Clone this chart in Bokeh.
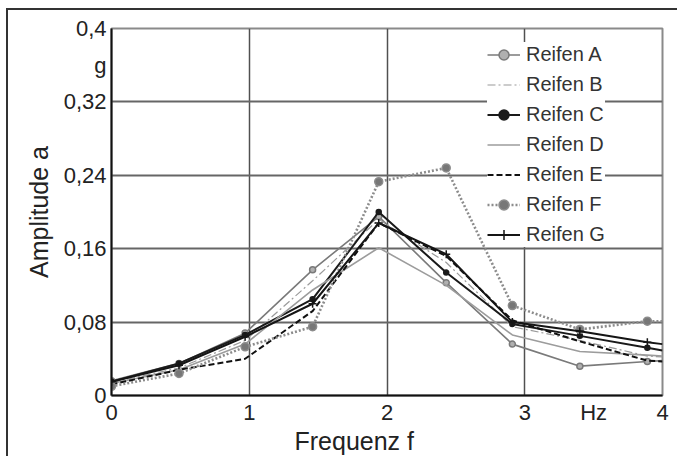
from bokeh.plotting import figure
from bokeh.models import Range1d, FixedTicker, Legend, Title
from bokeh.embed import file_html
from bokeh.resources import INLINE

# ---- data ----
freq = [0.0, 0.49, 0.97, 1.46, 1.94, 2.43, 2.91, 3.40, 3.89, 4.0]
reifen_a = [0.016, 0.035, 0.068, 0.137, 0.195, 0.123, 0.056, 0.032, 0.037, 0.038]
reifen_b = [0.014, 0.030, 0.060, 0.125, 0.192, 0.145, 0.075, 0.060, 0.043, 0.042]
reifen_c = [0.015, 0.035, 0.066, 0.105, 0.200, 0.134, 0.078, 0.065, 0.052, 0.049]
reifen_d = [0.013, 0.028, 0.056, 0.115, 0.161, 0.120, 0.066, 0.048, 0.044, 0.043]
reifen_e = [0.012, 0.028, 0.040, 0.092, 0.188, 0.152, 0.082, 0.059, 0.038, 0.037]
reifen_f = [0.010, 0.024, 0.053, 0.075, 0.233, 0.248, 0.098, 0.072, 0.081, 0.081]
reifen_g = [0.015, 0.033, 0.064, 0.100, 0.188, 0.154, 0.080, 0.070, 0.058, 0.056]
n_markers = 9  # markers on measured points (last value is the line end at the frame edge)

series_names = ["Reifen A", "Reifen B", "Reifen C", "Reifen D", "Reifen E", "Reifen F", "Reifen G"]
x_ticks = [0, 1, 2, 3, 3.5, 4]
x_tick_labels = ["0", "1", "2", "3", "Hz", "4"]
y_ticks = [0, 0.08, 0.16, 0.24, 0.32, 0.36, 0.4]
y_tick_labels = ["0", "0,08", "0,16", "0,24", "0,32", "g", "0,4"]
x_label = "Frequenz f"
y_label = "Amplitude a"

FONT = "Liberation Sans"

p = figure(width=671, height=448, output_backend="svg", toolbar_location=None,
           x_range=Range1d(0, 4), y_range=Range1d(0, 0.4),
           min_border_left=103, min_border_right=17, min_border_top=18, min_border_bottom=63)
p.styles = {"border-top": "2px solid #333", "border-left": "2px solid #333",
            "margin-left": "6px", "margin-top": "8px"}
p.background_fill_color = "white"
p.border_fill_color = "white"
p.outline_line_color = "#8a8a8a"
p.outline_line_width = 2

# axes
p.xaxis.ticker = FixedTicker(ticks=x_ticks)
p.xaxis.major_label_overrides = {t: l for t, l in zip(x_ticks, x_tick_labels)}
p.yaxis.ticker = FixedTicker(ticks=y_ticks)
p.yaxis.major_label_overrides = {t: l for t, l in zip(y_ticks, y_tick_labels)}
for ax in (p.xaxis[0], p.yaxis[0]):
    ax.axis_line_color = "#111"
    ax.axis_line_width = 2
    ax.major_tick_in = 0
    ax.major_tick_out = 0
    ax.minor_tick_in = 0
    ax.minor_tick_out = 0
    ax.major_label_text_font = FONT
    ax.major_label_text_font_size = "22px"
    ax.major_label_text_color = "#222"
p.xaxis.major_label_standoff = 4
p.yaxis.major_label_standoff = 5

p.yaxis.axis_label = y_label
p.yaxis.axis_label_text_font = FONT
p.yaxis.axis_label_text_font_size = "25px"
p.yaxis.axis_label_text_font_style = "normal"
p.yaxis.axis_label_text_color = "#222"
p.yaxis.axis_label_standoff = 8

xt = Title(text=x_label, align="left", offset=183, standoff=-5,
           text_font=FONT, text_font_size="25px", text_font_style="normal", text_color="#222")
p.add_layout(xt, "below")

# grid
p.xgrid.ticker = FixedTicker(ticks=[1, 2, 3])
p.ygrid.ticker = FixedTicker(ticks=[0.08, 0.16, 0.24, 0.32])
p.xgrid.grid_line_color = "#505050"
p.xgrid.grid_line_width = 1.5
p.ygrid.grid_line_color = "#666666"
p.ygrid.grid_line_width = 2

# series
styles = [
    dict(data=reifen_a, color="#7a7a7a", width=1.6, dash="solid", marker="circle", msize=6, mfill="#b0b0b0"),
    dict(data=reifen_b, color="#9a9a9a", width=1.2, dash="8 3 2 3", marker=None),
    dict(data=reifen_c, color="#1a1a1a", width=2.0, dash="solid", marker="circle", msize=5, mfill="#1a1a1a"),
    dict(data=reifen_d, color="#9c9c9c", width=1.6, dash="solid", marker=None),
    dict(data=reifen_e, color="#111111", width=2.0, dash="6 3", marker=None),
    dict(data=reifen_f, color="#8c8c8c", width=2.6, dash="2 2", marker="circle", msize=8, mfill="#777777"),
    dict(data=reifen_g, color="#151515", width=2.0, dash="solid", marker="cross", msize=8, mfill="#151515"),
]

items = []
for name, st in zip(series_names, styles):
    rs = []
    r = p.line(freq, st["data"], line_color=st["color"], line_width=st["width"], line_dash=st["dash"])
    rs.append(r)
    if st["marker"]:
        m = p.scatter(freq[:n_markers], st["data"][:n_markers], marker=st["marker"], size=st["msize"],
                      fill_color=st["mfill"], line_color=st["color"], line_width=1.5)
        rs.append(m)
    items.append((name, rs))

legend = Legend(items=items, location=(376, 148))
legend.label_text_font = FONT
legend.label_text_font_size = "20px"
legend.label_text_color = "#333"
legend.label_height = 25
legend.glyph_height = 25
legend.glyph_width = 33
legend.label_standoff = 6
legend.spacing = 5
legend.padding = 8
legend.margin = 0
legend.border_line_color = None
legend.background_fill_color = "white"
legend.background_fill_alpha = 1.0
p.add_layout(legend, "center")

open("out.html", "w").write(file_html(p, INLINE))
